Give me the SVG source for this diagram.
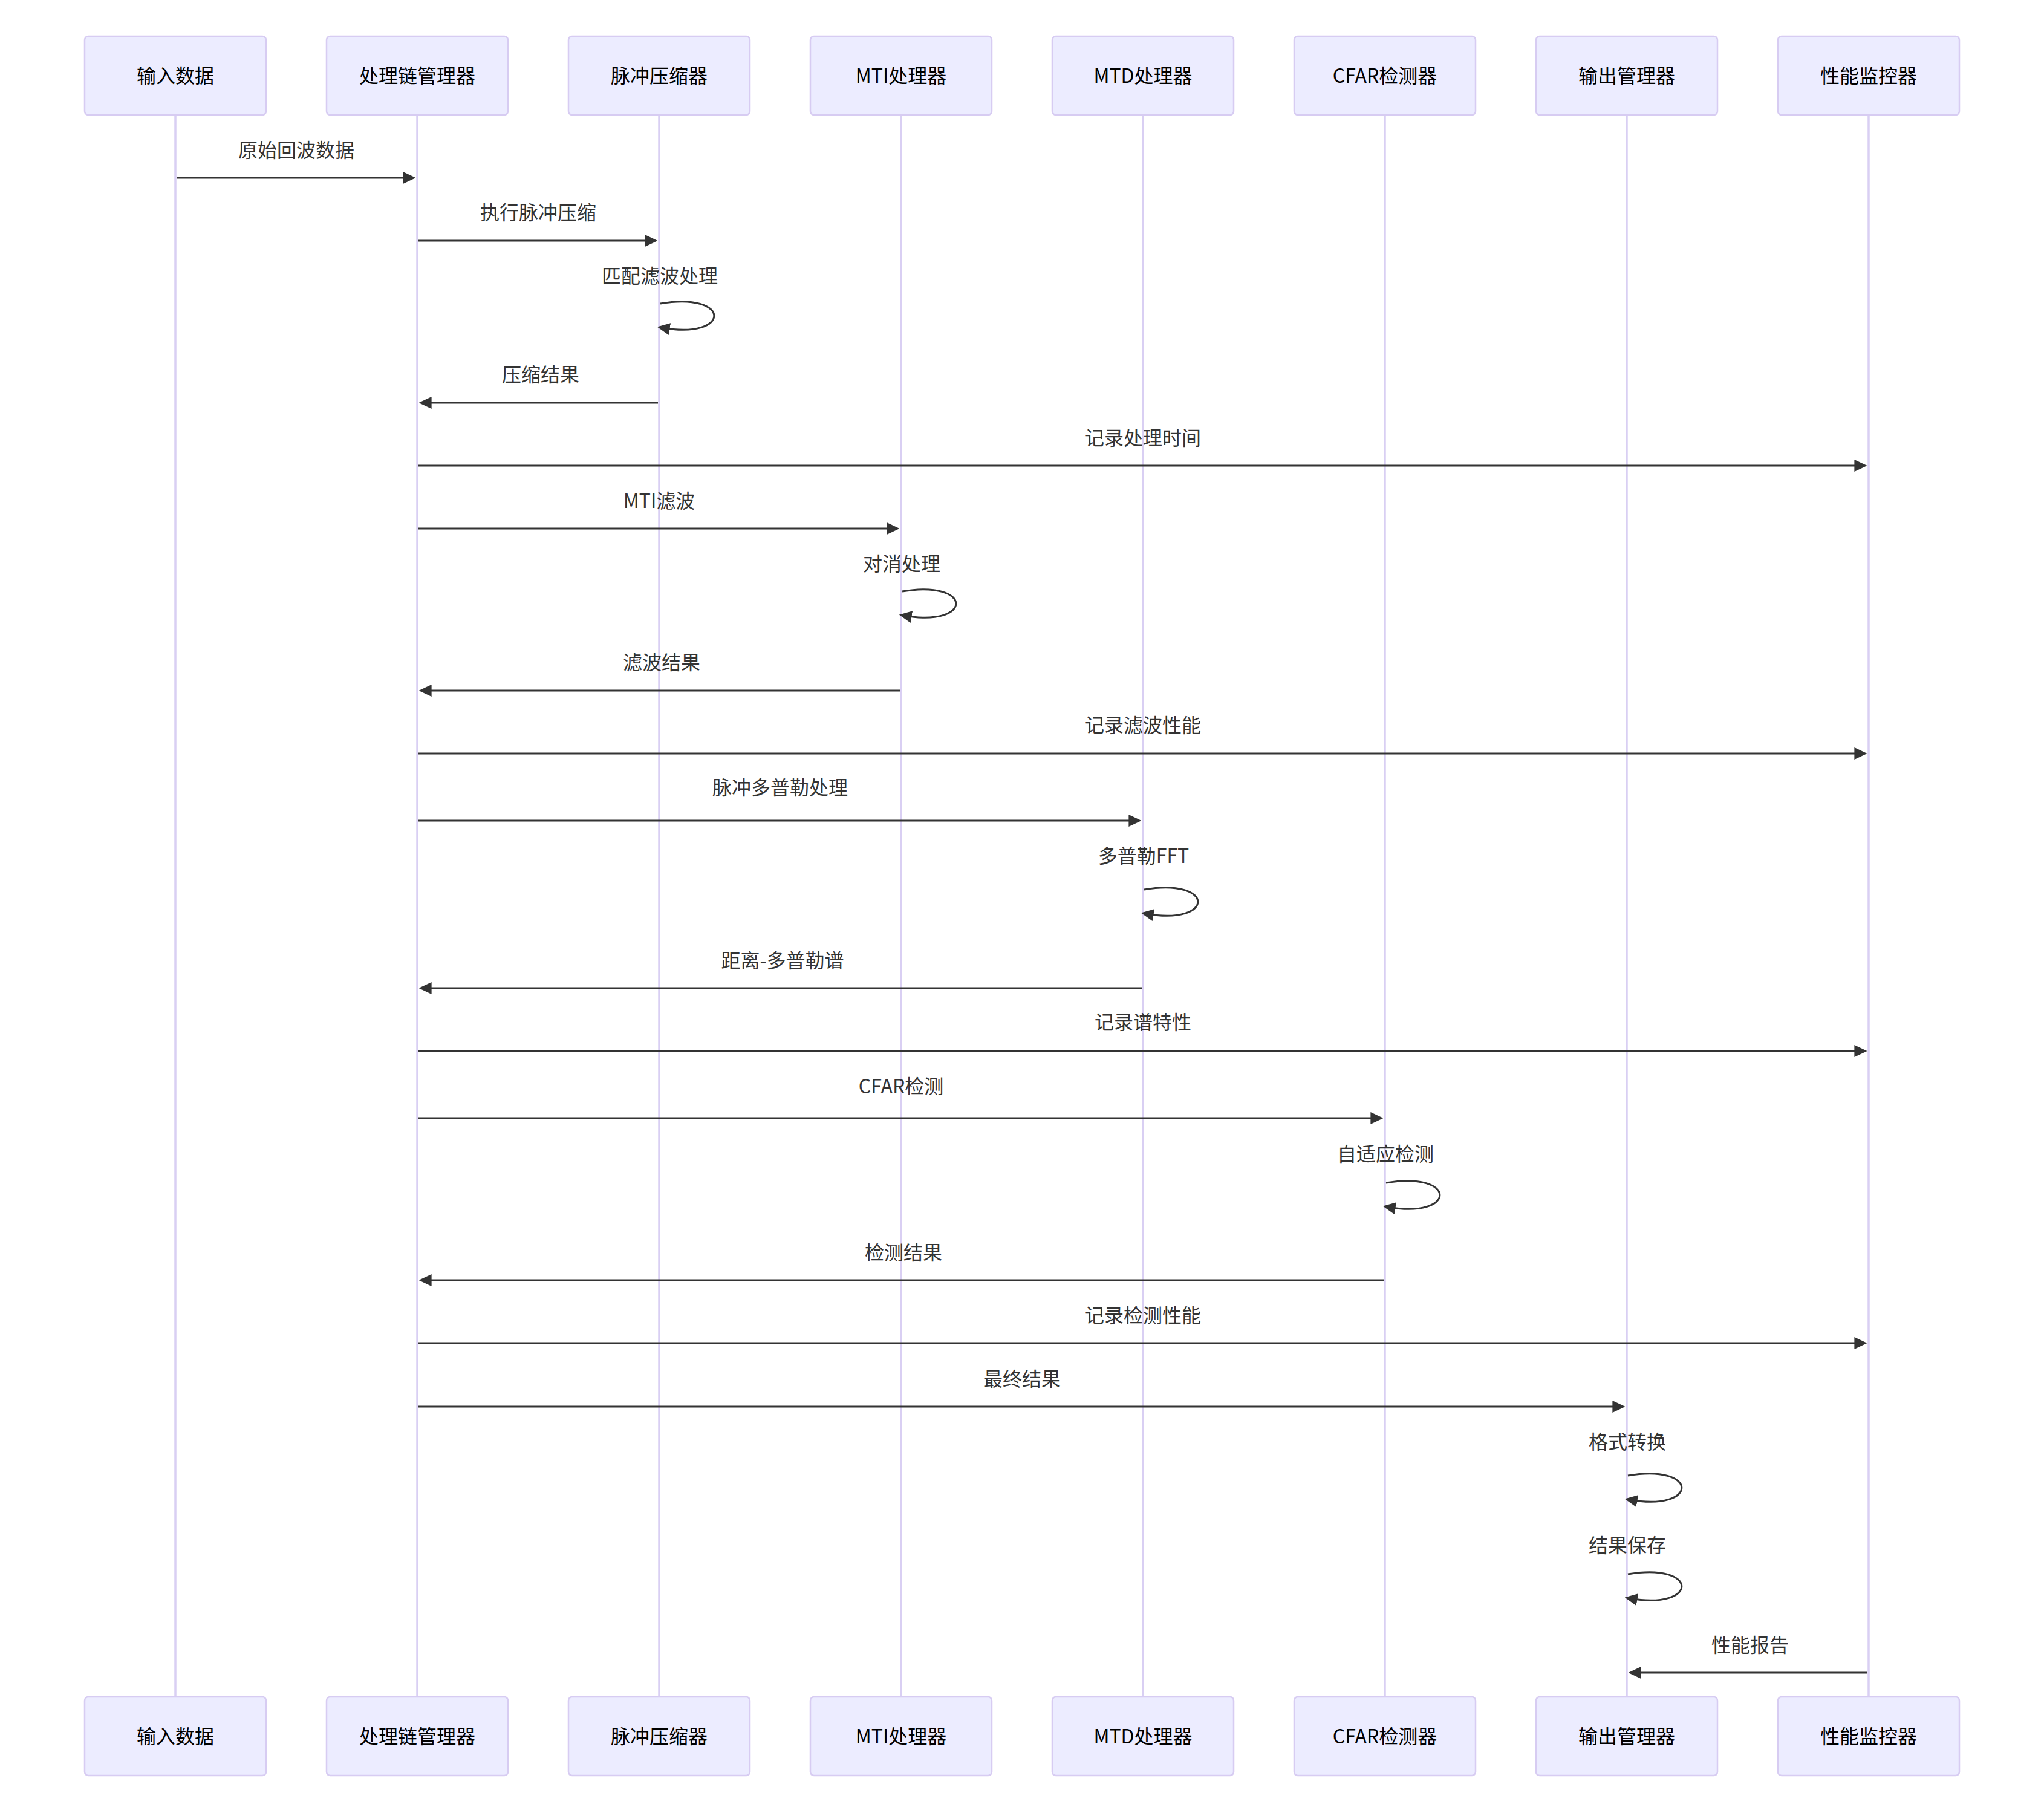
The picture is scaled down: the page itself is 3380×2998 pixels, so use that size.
<svg xmlns="http://www.w3.org/2000/svg" width="3380" height="2998" viewBox="0 0 3380 2998">
<style>
.bg{fill:#ffffff}
.actor{fill:#ECECFF;stroke:#D7CCF2;stroke-width:2.5}
.atext{font-family:"Noto Sans CJK SC","Noto Sans",sans-serif;font-size:32px;fill:#000000;text-anchor:middle}
.life{stroke:#D9CFF3;stroke-width:3.5;fill:none}
.msg{stroke:#333333;stroke-width:3;fill:none}
.mtext{font-family:"Noto Sans CJK SC","Noto Sans",sans-serif;font-size:32px;fill:#333333;text-anchor:middle}
</style>
<defs>
<marker id="ah" markerUnits="userSpaceOnUse" viewBox="0 0 10 10" markerWidth="21" markerHeight="20" refX="6" refY="5" orient="auto" preserveAspectRatio="none">
<path d="M0,0 L10,5 L0,10 z" fill="#333333"/>
</marker>
</defs>
<rect class="bg" x="0" y="0" width="3380" height="2998"/>

<g id="lifelines">
<line class="life" x1="290" y1="190" x2="290" y2="2806"/>
<line class="life" x1="690" y1="190" x2="690" y2="2806"/>
<line class="life" x1="1090" y1="190" x2="1090" y2="2806"/>
<line class="life" x1="1490" y1="190" x2="1490" y2="2806"/>
<line class="life" x1="1890" y1="190" x2="1890" y2="2806"/>
<line class="life" x1="2290" y1="190" x2="2290" y2="2806"/>
<line class="life" x1="2690" y1="190" x2="2690" y2="2806"/>
<line class="life" x1="3090" y1="190" x2="3090" y2="2806"/>
</g>

<g id="input">
<rect class="actor" x="140" y="60" width="300" height="130" rx="6"/>
<text class="atext" x="290" y="137">输入数据</text>
<rect class="actor" x="140" y="2806" width="300" height="130" rx="6"/>
<text class="atext" x="290" y="2883">输入数据</text>
</g>
<g id="chain">
<rect class="actor" x="540" y="60" width="300" height="130" rx="6"/>
<text class="atext" x="690" y="137">处理链管理器</text>
<rect class="actor" x="540" y="2806" width="300" height="130" rx="6"/>
<text class="atext" x="690" y="2883">处理链管理器</text>
</g>
<g id="pulse">
<rect class="actor" x="940" y="60" width="300" height="130" rx="6"/>
<text class="atext" x="1090" y="137">脉冲压缩器</text>
<rect class="actor" x="940" y="2806" width="300" height="130" rx="6"/>
<text class="atext" x="1090" y="2883">脉冲压缩器</text>
</g>
<g id="mti">
<rect class="actor" x="1340" y="60" width="300" height="130" rx="6"/>
<text class="atext" x="1490" y="137">MTI处理器</text>
<rect class="actor" x="1340" y="2806" width="300" height="130" rx="6"/>
<text class="atext" x="1490" y="2883">MTI处理器</text>
</g>
<g id="mtd">
<rect class="actor" x="1740" y="60" width="300" height="130" rx="6"/>
<text class="atext" x="1890" y="137">MTD处理器</text>
<rect class="actor" x="1740" y="2806" width="300" height="130" rx="6"/>
<text class="atext" x="1890" y="2883">MTD处理器</text>
</g>
<g id="cfar">
<rect class="actor" x="2140" y="60" width="300" height="130" rx="6"/>
<text class="atext" x="2290" y="137">CFAR检测器</text>
<rect class="actor" x="2140" y="2806" width="300" height="130" rx="6"/>
<text class="atext" x="2290" y="2883">CFAR检测器</text>
</g>
<g id="output">
<rect class="actor" x="2540" y="60" width="300" height="130" rx="6"/>
<text class="atext" x="2690" y="137">输出管理器</text>
<rect class="actor" x="2540" y="2806" width="300" height="130" rx="6"/>
<text class="atext" x="2690" y="2883">输出管理器</text>
</g>
<g id="monitor">
<rect class="actor" x="2940" y="60" width="300" height="130" rx="6"/>
<text class="atext" x="3090" y="137">性能监控器</text>
<rect class="actor" x="2940" y="2806" width="300" height="130" rx="6"/>
<text class="atext" x="3090" y="2883">性能监控器</text>
</g>

<g id="messages">
<text class="mtext" x="490" y="260">原始回波数据</text>
<line class="msg" x1="292" y1="294" x2="679" y2="294" marker-end="url(#ah)"/>

<text class="mtext" x="890" y="363">执行脉冲压缩</text>
<line class="msg" x1="692" y1="398" x2="1079" y2="398" marker-end="url(#ah)"/>

<text class="mtext" x="1091" y="468">匹配滤波处理</text>
<path class="msg" d="M1092,502 C1210,482 1210,562 1095,542" marker-end="url(#ah)"/>

<text class="mtext" x="894" y="631">压缩结果</text>
<line class="msg" x1="1088" y1="666" x2="701" y2="666" marker-end="url(#ah)"/>

<text class="mtext" x="1890" y="736">记录处理时间</text>
<line class="msg" x1="692" y1="770" x2="3079" y2="770" marker-end="url(#ah)"/>

<text class="mtext" x="1090" y="840">MTI滤波</text>
<line class="msg" x1="692" y1="874" x2="1479" y2="874" marker-end="url(#ah)"/>

<text class="mtext" x="1491" y="944">对消处理</text>
<path class="msg" d="M1492,978 C1610,958 1610,1038 1495,1018" marker-end="url(#ah)"/>

<text class="mtext" x="1094" y="1107">滤波结果</text>
<line class="msg" x1="1488" y1="1142" x2="701" y2="1142" marker-end="url(#ah)"/>

<text class="mtext" x="1890" y="1211">记录滤波性能</text>
<line class="msg" x1="692" y1="1246" x2="3079" y2="1246" marker-end="url(#ah)"/>

<text class="mtext" x="1290" y="1314">脉冲多普勒处理</text>
<line class="msg" x1="692" y1="1357" x2="1879" y2="1357" marker-end="url(#ah)"/>

<text class="mtext" x="1891" y="1427">多普勒FFT</text>
<path class="msg" d="M1892,1471 C2010,1451 2010,1531 1895,1511" marker-end="url(#ah)"/>

<text class="mtext" x="1294" y="1600">距离-多普勒谱</text>
<line class="msg" x1="1888" y1="1634" x2="701" y2="1634" marker-end="url(#ah)"/>

<text class="mtext" x="1890" y="1702">记录谱特性</text>
<line class="msg" x1="692" y1="1738" x2="3079" y2="1738" marker-end="url(#ah)"/>

<text class="mtext" x="1490" y="1808">CFAR检测</text>
<line class="msg" x1="692" y1="1849" x2="2279" y2="1849" marker-end="url(#ah)"/>

<text class="mtext" x="2291" y="1920">自适应检测</text>
<path class="msg" d="M2292,1956 C2410,1936 2410,2016 2295,1996" marker-end="url(#ah)"/>

<text class="mtext" x="1494" y="2083">检测结果</text>
<line class="msg" x1="2288" y1="2117" x2="701" y2="2117" marker-end="url(#ah)"/>

<text class="mtext" x="1890" y="2187">记录检测性能</text>
<line class="msg" x1="692" y1="2221" x2="3079" y2="2221" marker-end="url(#ah)"/>

<text class="mtext" x="1690" y="2292">最终结果</text>
<line class="msg" x1="692" y1="2326" x2="2679" y2="2326" marker-end="url(#ah)"/>

<text class="mtext" x="2691" y="2396">格式转换</text>
<path class="msg" d="M2692,2440 C2810,2420 2810,2500 2695,2480" marker-end="url(#ah)"/>

<text class="mtext" x="2691" y="2567">结果保存</text>
<path class="msg" d="M2692,2603 C2810,2583 2810,2663 2695,2643" marker-end="url(#ah)"/>

<text class="mtext" x="2894" y="2732">性能报告</text>
<line class="msg" x1="3088" y1="2766" x2="2701" y2="2766" marker-end="url(#ah)"/>
</g>
</svg>
